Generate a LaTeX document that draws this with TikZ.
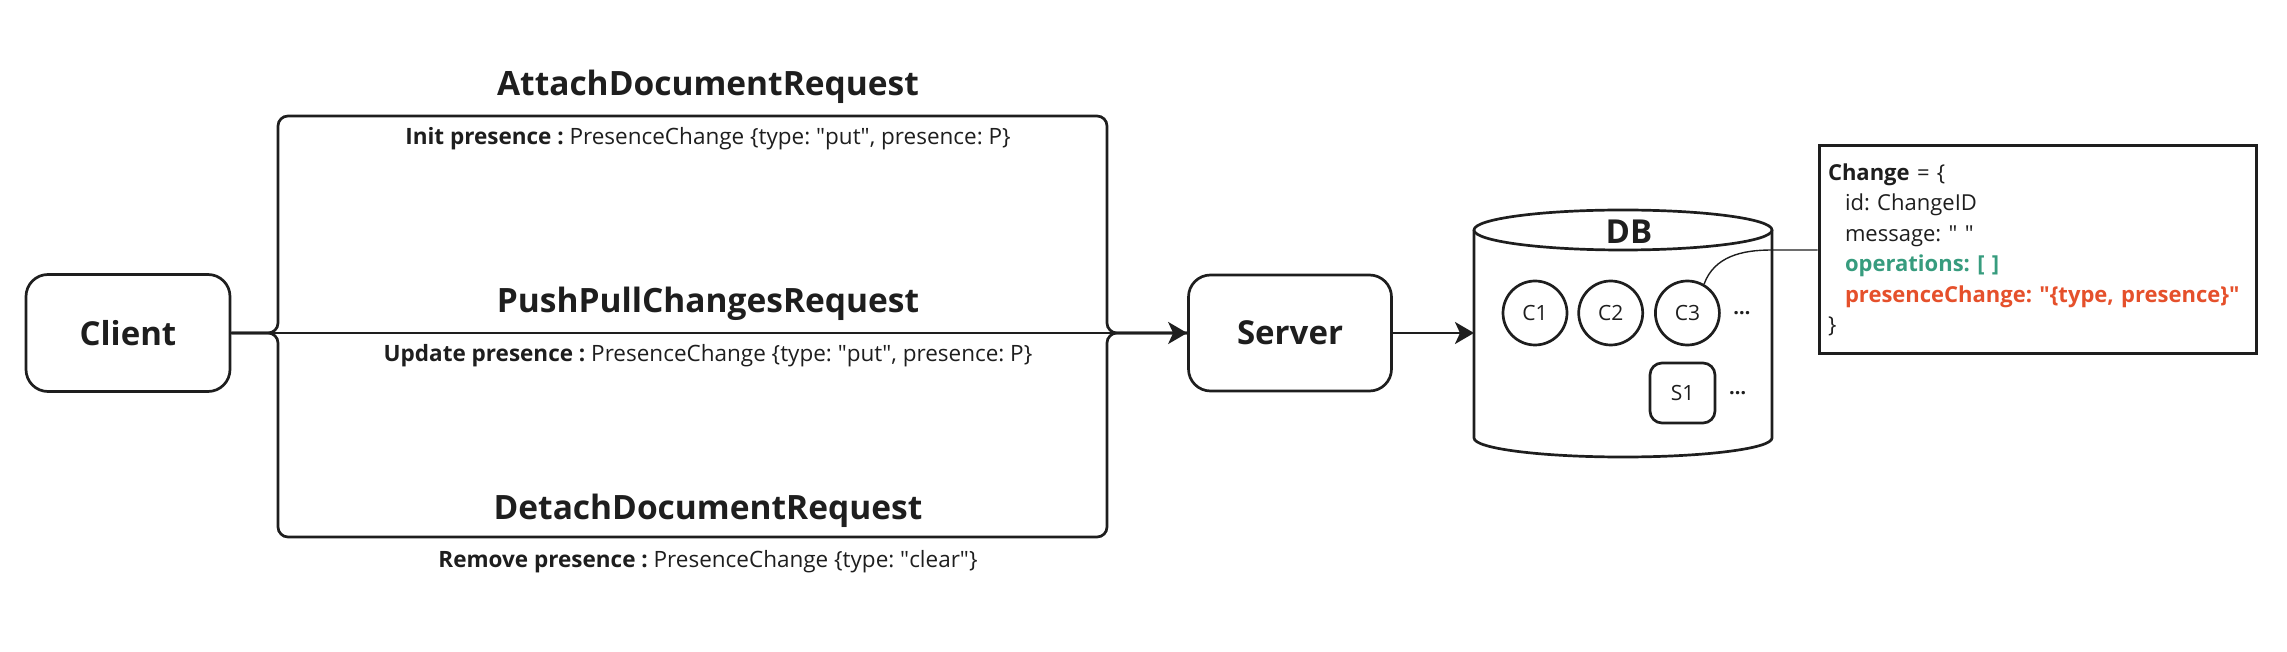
\documentclass[tikz,border=0pt]{standalone}
\usepackage{fontspec}
\setmainfont{Open Sans}
\usepackage{xcolor}
\usepackage{tikz}
\usetikzlibrary{arrows.meta, positioning, calc}
\definecolor{ink}{HTML}{1e1e1e}
\definecolor{opgreen}{HTML}{379c7e}
\definecolor{pcred}{HTML}{e5502b}
\newcommand{\qt}{\textquotedbl}
\frenchspacing

\begin{document}
\begin{tikzpicture}[
    x=1pt, y=1pt,
    line width=2.7pt, draw=ink, text=ink,
    node distance=9pt,
    endpoint/.style={rectangle, rounded corners=22pt, draw, minimum width=204pt, minimum height=117pt, font=\fontsize{33}{40}\selectfont\bfseries},
    reqname/.style={anchor=base, font=\fontsize{33.5}{40}\selectfont\bfseries},
    presence/.style={anchor=base, font=\fontsize{22.5}{27}\selectfont},
    record/.style={circle, draw, minimum size=64pt, inner sep=0pt, font=\fontsize{21}{25}\selectfont},
    snap/.style={rectangle, rounded corners=12pt, draw, minimum width=65pt, minimum height=60pt, inner sep=0pt, font=\fontsize{21}{25}\selectfont},
    more/.style={right=8pt of #1, font=\fontsize{20}{24}\selectfont\bfseries},
    arrow/.style={-{Stealth[length=19pt, width=22pt, inset=5pt]}},
    link/.style={line width=1.4pt},
]
    \useasboundingbox (0,0) rectangle (2287,651);

    % client / server
    \node[endpoint] (client) at (128,318) {Client};
    \node[endpoint, minimum width=203pt, minimum height=116pt] (server) at (1290,318) {Server};

    % request paths
    \coordinate (fork) at (278,318);
    \coordinate (join) at (1107,318);
    \draw[rounded corners=10pt] (client.east) -- (fork) -- (278,535) -- (1107,535) -- (join) -- (server.west);
    \draw[rounded corners=10pt] (client.east) -- (fork) -- (278,114) -- (1107,114) -- (join) -- (server.west);
    \draw[arrow] (client.east) -- (server.west);

    \node[reqname] (attach) at (708,555) {AttachDocumentRequest};
    \node[presence] (init) at (708,506) {\textbf{Init presence :} PresenceChange \{type: \qt put\qt, presence: P\}};
    \node[reqname] (pushpull) at (708,338) {PushPullChangesRequest};
    \node[presence] (update) at (708,289) {\textbf{Update presence :} PresenceChange \{type: \qt put\qt, presence: P\}};
    \node[reqname] (detach) at (708,131) {DetachDocumentRequest};
    \node[presence] (remove) at (708,84) {\textbf{Remove presence :} PresenceChange \{type: \qt clear\qt\}};

    % database
    \draw (1474,421) -- (1474,213) arc[start angle=180, end angle=360, x radius=149, y radius=19] -- (1772,421);
    \draw[fill=white] (1623,421) ellipse[x radius=149, y radius=20];
    \node[font=\fontsize{33}{40}\selectfont\bfseries] (db) at (1629,419) {DB};
    \coordinate (dbin) at (1474,318);
    \draw[arrow] (server.east) -- (dbin);

    \node[record] (c1) at (1535,338) {C1};
    \node[record, right=of c1] (c2) {C2};
    \node[record, right=10pt of c2] (c3) {C3};
    \node[more=c3] (cmore) {…};
    \node[snap] (s1) at (1682.5,258) {S1};
    \node[more=s1] (smore) {…};

    % change record
    \node[draw, line width=3pt, minimum width=437pt, minimum height=208pt, text width=419pt, align=left,
          font=\fontsize{22}{30.5}\selectfont] (change) at (2037.5,401) {
        \textbf{Change} = \{\\
        \hspace*{17pt}id: ChangeID\\
        \hspace*{17pt}message: \qt\ \qt\\
        \hspace*{17pt}{\color{opgreen}\bfseries operations: [ ]}\\
        \hspace*{17pt}{\color{pcred}\bfseries presenceChange: \qt\{type, presence\}\qt}\\
        \}
    };
    \draw[link] (c3.60) to[out=70, in=180] ($(change.west)+(-46,0)$) -- (change.west);
\end{tikzpicture}
\end{document}
